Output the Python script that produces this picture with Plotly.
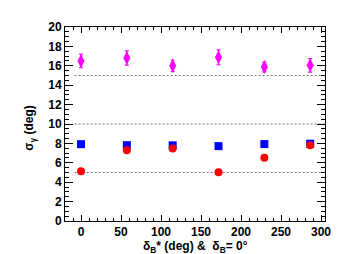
import plotly.graph_objects as go

x_vals = [0, 57.3, 114.6, 171.9, 229.2, 286.5]
magenta_y = [16.5, 16.8, 16.0, 16.88, 15.88, 16.05]
magenta_err = [0.7, 0.73, 0.6, 0.77, 0.5, 0.7]
blue_y = [7.92, 7.82, 7.8, 7.72, 7.93, 7.97]
red_y = [5.13, 7.3, 7.47, 5.03, 6.53, 7.8]
ref_lines = [5, 10, 15]

font = "Liberation Sans, Arial, sans-serif"

fig = go.Figure()
fig.add_trace(go.Scatter(x=x_vals, y=magenta_y, mode="markers",
                         marker=dict(symbol="diamond-tall", size=10, color="#ff00ff"),
                         error_y=dict(type="data", array=magenta_err, color="#ff00ff",
                                      thickness=1.2, width=2)))
fig.add_trace(go.Scatter(x=x_vals, y=blue_y, mode="markers",
                         marker=dict(symbol="square", size=8, color="#0000ff")))
fig.add_trace(go.Scatter(x=x_vals, y=red_y, mode="markers",
                         marker=dict(symbol="circle", size=8, color="#ff0000")))

for v in ref_lines:
    fig.add_shape(type="line", x0=-8, x1=305, y0=v, y1=v, xref="x", yref="y",
                  line=dict(color="#777777", width=1, dash="2px,2px"), layer="below")

axis_common = dict(showgrid=False, zeroline=False, showline=True, linecolor="black",
                   linewidth=1, mirror="allticks", ticks="inside", tickcolor="black",
                   tickfont=dict(family=font, size=12, color="black", weight="bold"))

fig.update_xaxes(range=[-20, 305], dtick=50, tick0=0, ticklen=6,
                 minor=dict(dtick=10, tick0=0, ticklen=3, ticks="inside", tickcolor="black", showgrid=False),
                 **axis_common)
fig.update_yaxes(range=[0, 20], dtick=2, tick0=0, ticklen=8,
                 minor=dict(dtick=0.5, tick0=0, ticklen=4, ticks="inside", tickcolor="black", showgrid=False),
                 **axis_common)

fig.add_annotation(text="δ<sub>B</sub>* (deg) &amp;  δ<sub>B</sub>= 0°", xref="paper", yref="paper",
                   x=0.5, y=-0.085, xanchor="center", yanchor="top", showarrow=False,
                   font=dict(family=font, size=12, color="black", weight="bold"))
fig.add_annotation(text="σ<sub>γ</sub> (deg)", xref="paper", yref="paper",
                   x=-0.135, y=0.48, xanchor="center", yanchor="middle", showarrow=False,
                   textangle=-90,
                   font=dict(family=font, size=12, color="black", weight="bold"))

fig.update_layout(width=353, height=254, margin=dict(l=57, r=36, t=13, b=41),
                  plot_bgcolor="white", paper_bgcolor="white", showlegend=False)

fig.write_html("out.html")
